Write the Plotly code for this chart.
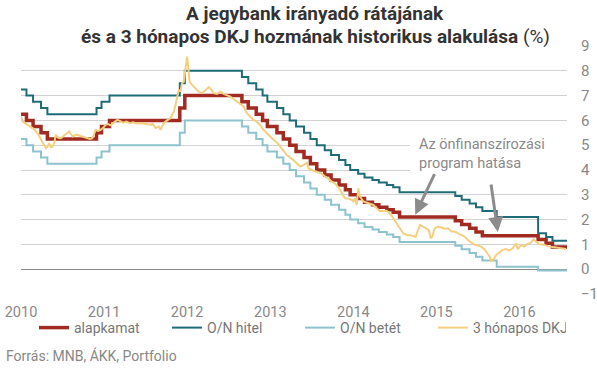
import plotly.graph_objects as go
import pandas as pd

# ---- policy rates (step series: date of change, new value) ----
base_dates = ["2010-01-01", "2010-01-25", "2010-02-23", "2010-03-30", "2010-04-27",
              "2010-11-29", "2010-12-21", "2011-01-25", "2011-11-30", "2011-12-22",
              "2012-08-29", "2012-09-26", "2012-10-31", "2012-11-28", "2012-12-19",
              "2013-01-30", "2013-02-27", "2013-03-27", "2013-04-24", "2013-05-29",
              "2013-06-26", "2013-07-24", "2013-08-28", "2013-09-25", "2013-10-30",
              "2013-11-27", "2013-12-18", "2014-01-22", "2014-02-19", "2014-03-26",
              "2014-04-23", "2014-05-28", "2014-06-25", "2014-07-23", "2015-03-25",
              "2015-04-22", "2015-05-27", "2015-06-24", "2015-07-22", "2016-03-23",
              "2016-04-27", "2016-05-25", "2016-07-28"]
alapkamat = [6.25, 6.00, 5.75, 5.50, 5.25, 5.50, 5.75, 6.00, 6.50, 7.00,
             6.75, 6.50, 6.25, 6.00, 5.75, 5.50, 5.25, 5.00, 4.75, 4.50,
             4.25, 4.00, 3.80, 3.60, 3.40, 3.20, 3.00, 2.85, 2.70, 2.60,
             2.50, 2.40, 2.30, 2.10, 1.95, 1.80, 1.65, 1.50, 1.35, 1.20,
             1.05, 0.90, 0.90]

corr_dates = ["2010-01-01", "2010-01-25", "2010-02-23", "2010-03-30", "2010-04-27",
              "2010-11-29", "2010-12-21", "2011-01-25", "2011-11-30", "2011-12-22",
              "2012-08-29", "2012-09-26", "2012-10-31", "2012-11-28", "2012-12-19",
              "2013-01-30", "2013-02-27", "2013-03-27", "2013-04-24", "2013-05-29",
              "2013-06-26", "2013-07-24", "2013-08-28", "2013-09-25", "2013-10-30",
              "2013-11-27", "2013-12-18", "2014-01-22", "2014-02-19", "2014-03-26",
              "2014-04-23", "2014-05-28", "2014-06-25", "2014-07-23", "2015-03-25",
              "2015-04-22", "2015-05-27", "2015-06-24", "2015-07-22", "2015-09-23",
              "2016-03-23", "2016-04-27", "2016-05-25", "2016-07-28"]
on_hitel = [7.25, 7.00, 6.75, 6.50, 6.25, 6.50, 6.75, 7.00, 7.50, 8.00,
            7.75, 7.50, 7.25, 7.00, 6.75, 6.50, 6.25, 6.00, 5.75, 5.50,
            5.25, 5.00, 4.80, 4.60, 4.40, 4.20, 4.00, 3.85, 3.70, 3.60,
            3.50, 3.40, 3.30, 3.10, 2.95, 2.80, 2.65, 2.50, 2.35, 2.10,
            1.45, 1.30, 1.15, 1.15]
on_betet = [5.25, 5.00, 4.75, 4.50, 4.25, 4.50, 4.75, 5.00, 5.50, 6.00,
            5.75, 5.50, 5.25, 5.00, 4.75, 4.50, 4.25, 4.00, 3.75, 3.50,
            3.25, 3.00, 2.80, 2.60, 2.40, 2.20, 2.00, 1.85, 1.70, 1.60,
            1.50, 1.40, 1.30, 1.10, 0.95, 0.80, 0.65, 0.50, 0.35, 0.10,
            -0.05, -0.05, -0.05, -0.05]

# ---- 3-month T-bill yield (decimal year, %) ----
dkj_t = [2010.00, 2010.02, 2010.05, 2010.08, 2010.11, 2010.14, 2010.17, 2010.20, 2010.23, 2010.26,
         2010.28, 2010.30, 2010.32, 2010.34, 2010.36, 2010.38, 2010.40, 2010.42, 2010.45, 2010.48,
         2010.51, 2010.54, 2010.56, 2010.58, 2010.60, 2010.62, 2010.65, 2010.68, 2010.71, 2010.74,
         2010.77, 2010.80, 2010.83, 2010.86, 2010.88, 2010.90, 2010.93, 2010.96, 2010.99, 2011.02,
         2011.05, 2011.08, 2011.12, 2011.16, 2011.19, 2011.23, 2011.27, 2011.31, 2011.35, 2011.39,
         2011.43, 2011.47, 2011.51, 2011.55, 2011.57, 2011.58, 2011.60, 2011.62, 2011.64, 2011.66,
         2011.68, 2011.70, 2011.72, 2011.74, 2011.76, 2011.78, 2011.80, 2011.82, 2011.84, 2011.86,
         2011.88, 2011.90, 2011.92, 2011.94, 2011.96, 2011.98, 2012.00, 2012.01, 2012.02, 2012.03,
         2012.06, 2012.10, 2012.14, 2012.18, 2012.22, 2012.26, 2012.28, 2012.30, 2012.32, 2012.36,
         2012.40, 2012.44, 2012.48, 2012.52, 2012.56, 2012.60, 2012.64, 2012.68, 2012.72, 2012.76,
         2012.80, 2012.84, 2012.88, 2012.92, 2012.96, 2013.00, 2013.04, 2013.08, 2013.12, 2013.16,
         2013.20, 2013.24, 2013.28, 2013.32, 2013.36, 2013.40, 2013.44, 2013.46, 2013.50, 2013.54,
         2013.58, 2013.62, 2013.66, 2013.70, 2013.74, 2013.78, 2013.82, 2013.86, 2013.90, 2013.94,
         2013.98, 2014.00, 2014.02, 2014.04, 2014.06, 2014.08, 2014.12, 2014.18, 2014.24, 2014.28,
         2014.32, 2014.36, 2014.40, 2014.44, 2014.48, 2014.52, 2014.56, 2014.60, 2014.64, 2014.70,
         2014.75, 2014.77, 2014.80, 2014.84, 2014.88, 2014.91, 2014.93, 2014.95, 2014.98, 2015.02,
         2015.06, 2015.10, 2015.14, 2015.18, 2015.22, 2015.26, 2015.30, 2015.34, 2015.38, 2015.42,
         2015.46, 2015.50, 2015.54, 2015.58, 2015.60, 2015.64, 2015.66, 2015.69, 2015.72, 2015.76,
         2015.80, 2015.84, 2015.88, 2015.92, 2015.96, 2015.98, 2016.02, 2016.06, 2016.10, 2016.14,
         2016.17, 2016.20, 2016.24, 2016.30, 2016.36, 2016.42, 2016.48, 2016.56]
dkj = [6.15, 5.95, 5.88, 5.82, 5.78, 5.69, 5.60, 5.48, 5.30, 5.15,
       5.00, 4.88, 4.95, 5.08, 4.92, 4.94, 5.10, 5.42, 5.30, 5.28,
       5.35, 5.42, 5.50, 5.55, 5.45, 5.35, 5.40, 5.42, 5.38, 5.35,
       5.30, 5.28, 5.25, 5.28, 5.45, 5.62, 5.58, 5.62, 5.70, 5.82,
       5.85, 5.80, 5.92, 6.02, 5.98, 5.91, 5.95, 5.89, 5.92, 5.88,
       5.89, 5.87, 5.86, 5.84, 5.82, 5.91, 5.78, 5.69, 5.72, 5.75,
       5.62, 5.75, 5.89, 5.95, 6.02, 6.05, 6.09, 6.20, 6.35, 6.62,
       6.90, 7.23, 7.16, 7.50, 7.56, 8.10, 8.57, 8.30, 8.04, 7.56,
       7.43, 7.30, 7.16, 7.10, 7.23, 7.34, 7.30, 7.20, 7.10, 7.07,
       7.16, 7.07, 7.03, 6.96, 6.86, 6.76, 6.69, 6.56, 6.29, 6.15,
       6.02, 5.95, 5.82, 5.62, 5.48, 5.35, 5.21, 5.10, 4.94, 4.78,
       4.60, 4.50, 4.40, 4.27, 4.14, 4.20, 4.30, 4.07, 4.00, 3.94,
       3.90, 3.85, 3.73, 3.65, 3.53, 3.45, 3.30, 3.06, 2.86, 2.85,
       2.80, 2.73, 2.86, 2.59, 3.26, 2.93, 2.73, 2.66, 2.59, 2.46,
       2.35, 2.35, 2.36, 2.26, 2.06, 1.85, 1.65, 1.45, 1.38, 1.36,
       1.31, 1.52, 1.79, 1.72, 1.65, 1.58, 1.25, 1.31, 1.65, 1.72,
       1.68, 1.63, 1.65, 1.52, 1.52, 1.45, 1.38, 1.31, 1.18, 1.09,
       0.98, 0.95, 0.91, 0.80, 0.71, 0.51, 0.33, 0.40, 0.58, 0.67,
       0.78, 0.81, 0.75, 0.85, 1.05, 0.81, 0.98, 0.91, 1.02, 1.07,
       1.21, 1.11, 1.01, 0.98, 0.91, 0.89, 0.85, 0.81]

year_ticks = ["2010", "2011", "2012", "2013", "2014", "2015", "2016"]
y_ticks = [-1, 0, 1, 2, 3, 4, 5, 6, 7, 8, 9]


def dec_to_date(t):
    y = int(t)
    return pd.Timestamp(year=y, month=1, day=1) + pd.Timedelta(days=(t - y) * 365)


dkj_dates = [dec_to_date(t) for t in dkj_t]

C_RED = "#a12b20"
C_TEAL = "#1f6c78"
C_LBLUE = "#8cc3cd"
C_YEL = "#f4cf80"
FONT = "Roboto"

fig = go.Figure()
fig.add_trace(go.Scatter(x=base_dates, y=alapkamat, name="alapkamat", mode="lines",
                         line=dict(color=C_RED, width=3.5, shape="hv")))
fig.add_trace(go.Scatter(x=corr_dates, y=on_hitel, name="O/N hitel", mode="lines",
                         line=dict(color=C_TEAL, width=2, shape="hv")))
fig.add_trace(go.Scatter(x=corr_dates, y=on_betet, name="O/N betét", mode="lines",
                         line=dict(color=C_LBLUE, width=2, shape="hv")))
fig.add_trace(go.Scatter(x=dkj_dates, y=dkj, name="3 hónapos DKJ", mode="lines",
                         line=dict(color=C_YEL, width=2)))

W, H = 597, 370
L, R, T, B = 21, 30, 46, 76
pw, ph = W - L - R, H - T - B


def px_x(x):
    return (x - L) / pw


def px_y(y):
    return (H - B - y) / ph


fig.update_layout(
    width=W, height=H,
    margin=dict(l=L, r=R, t=T, b=B, autoexpand=False),
    paper_bgcolor="white", plot_bgcolor="white",
    font=dict(family=FONT, color="#888888", size=14),
    showlegend=True,
    legend=dict(orientation="h", xref="container", x=34 / W, xanchor="left",
                yref="container", y=1 - 328 / H, yanchor="middle",
                font=dict(family=FONT, size=14, color="#777777"),
                entrywidth=88, entrywidthmode="pixels", bgcolor="rgba(0,0,0,0)",
                tracegroupgap=0, itemclick=False),
    xaxis=dict(type="date", range=["2010-01-01", "2016-07-28"],
               tickvals=[y + "-01-01" for y in year_ticks], ticktext=year_ticks,
               showgrid=False, zeroline=False, showline=False, ticks="",
               ticklabelstandoff=7, tickfont=dict(size=14.5, color="#888888")),
    yaxis=dict(range=[-1, 9], side="right", tickvals=y_ticks,
               showgrid=True, gridcolor="#d2d2d2", gridwidth=1,
               zeroline=True, zerolinecolor="#8a8a8a", zerolinewidth=1.2,
               showline=False, ticks="", ticklabelstandoff=13,
               tickfont=dict(size=15, color="#888888")),
)

# title (two lines, bold; "(%)" in regular weight)
fig.add_annotation(text="<b>A jegybank irányadó rátájának</b>", xref="paper", yref="paper",
                   x=px_x(315), y=px_y(14), xanchor="center", yanchor="middle",
                   showarrow=False, font=dict(family=FONT, size=19, color="#333333"))
fig.add_annotation(text="<b>és a 3 hónapos DKJ hozmának historikus alakulása</b> (%)",
                   xref="paper", yref="paper",
                   x=px_x(315), y=px_y(36), xanchor="center", yanchor="middle",
                   showarrow=False, font=dict(family=FONT, size=19, color="#333333"))

# white box behind the annotation text (hides gridlines there)
fig.add_shape(type="rect", xref="paper", yref="paper",
              x0=px_x(410), x1=px_x(567), y0=px_y(176), y1=px_y(133),
              fillcolor="white", line=dict(width=0), layer="above")

fig.add_annotation(text="Az önfinanszírozási<br>program hatása", xref="paper", yref="paper",
                   x=px_x(417), y=px_y(154), xanchor="left", yanchor="middle", align="left",
                   showarrow=False, font=dict(family=FONT, size=14.5, color="#8a8a8a"))

# arrows
fig.add_annotation(x=dec_to_date(2014.745), y=2.2, xref="x", yref="y", text="",
                   showarrow=True, arrowhead=2, arrowsize=1, arrowwidth=3,
                   arrowcolor="#8c8c8c", ax=20, ay=-42)
fig.add_annotation(x=dec_to_date(2015.74), y=1.5, xref="x", yref="y", text="",
                   showarrow=True, arrowhead=2, arrowsize=1, arrowwidth=3,
                   arrowcolor="#8c8c8c", ax=-7, ay=-49)

fig.add_annotation(text="Forrás: MNB, ÁKK, Portfolio", xref="paper", yref="paper",
                   x=px_x(4), y=px_y(355), xanchor="left", yanchor="middle",
                   showarrow=False, font=dict(family=FONT, size=14, color="#888888"))

fig.write_html("out.html", config={"displayModeBar": False},
               post_script="document.body.style.margin='0px';")
